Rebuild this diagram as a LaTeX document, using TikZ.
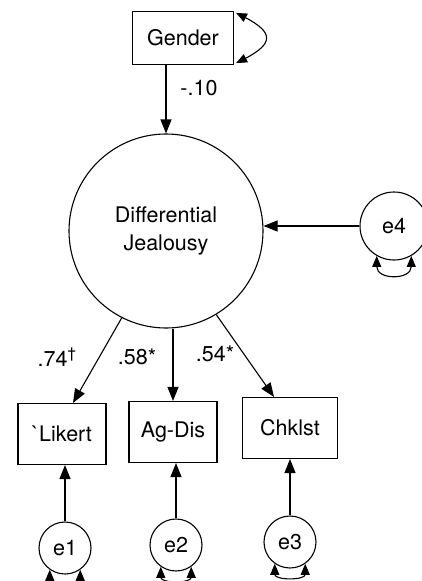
\documentclass[tikz,border=0pt]{standalone}
\usepackage{fontspec}
\setmainfont{TeX Gyre Heros}
\usetikzlibrary{arrows.meta,bending,positioning,calc,shapes.geometric}

\begin{document}
\begin{tikzpicture}[
		x=1pt,y=1pt,
		line width=1.1pt,
		every node/.style={
			font=\fontsize{21.5}{28}\selectfont,
			align=center
		},
		obs/.style={draw,minimum height=61pt,inner sep=0pt},
		latent/.style={draw,circle,minimum size=194pt,inner sep=0pt},
		err/.style={draw,circle,minimum size=52pt,inner sep=0pt},
		path/.style={-{Triangle[length=14pt,width=11pt]}},
		loopar/.style={{Triangle[length=11pt,width=9pt,quick]}-{Triangle[length=11pt,width=9pt,quick]}},
		bentloop/.style={{Triangle[length=11pt,width=9pt,bend]}-{Triangle[length=11pt,width=9pt,bend]}}
		]
		\useasboundingbox (0,0) rectangle (421,-581);
		
		\node[obs,minimum width=101pt,minimum height=53pt] (gender) at (183,-38) {Gender};
		\node[latent] (jeal) at (166,-231) {Differential\\Jealousy};
		\node[err,minimum size=68pt] (e4) at (394,-226) {e4};
		
		\node[obs,minimum width=88pt] (likert) at (62,-434) {\textasciigrave Likert};
		\node[obs,minimum width=88pt] (agdis) at (173,-432) {Ag-Dis};
		\node[obs,minimum width=95pt] (chklst) at (290,-428) {Chklst};
		
		\node[err] (e1) at (65,-548) {e1};
		\node[err] (e2) at (176,-545) {e2};
		\node[err] (e3) at (290,-542) {e3};
		
		% structural part
		\draw[path] (jeal.north |- gender.south) -- (jeal.north);
		\node (b1) at (199,-88) {-.10};
		\draw[path] (e4.west) -- (e4.west -| jeal.east);
		
		% loadings
		\draw[path] (jeal.-117) -- ([xshift=11pt]likert.north);
		\draw[path] (agdis.north |- jeal.south) -- (agdis.north);
		\draw[path] (jeal.-59) -- ([xshift=-16pt]chklst.north);
		\node (l1) at (57,-357) {.74\textsuperscript{\textdagger}};
		\node (l2) at (137,-357) {.58*};
		\node (l3) at (215,-354) {.54*};
		
		% errors
		\draw[path] (e1.north) -- (e1.north |- likert.south);
		\draw[path] (e2.north) -- (e2.north |- agdis.south);
		\draw[path] (e3.north) -- (e3.north |- chklst.south);
		
		% variances
		\draw[bentloop] ([shift={(2pt,-2pt)}]gender.north east) to[out=-25,in=25,looseness=2.3] ([shift={(2pt,2pt)}]gender.south east);
		\draw[loopar] (e1.-125) to[out=-90,in=-90,looseness=1.4] (e1.-55);
		\draw[loopar] (e2.-125) to[out=-90,in=-90,looseness=1.4] (e2.-55);
		\draw[loopar] (e3.-125) to[out=-90,in=-90,looseness=1.4] (e3.-55);
		\draw[loopar] (e4.-120) to[out=-90,in=-90,looseness=1.8] (e4.-60);
		
	\end{tikzpicture}
\end{document}
